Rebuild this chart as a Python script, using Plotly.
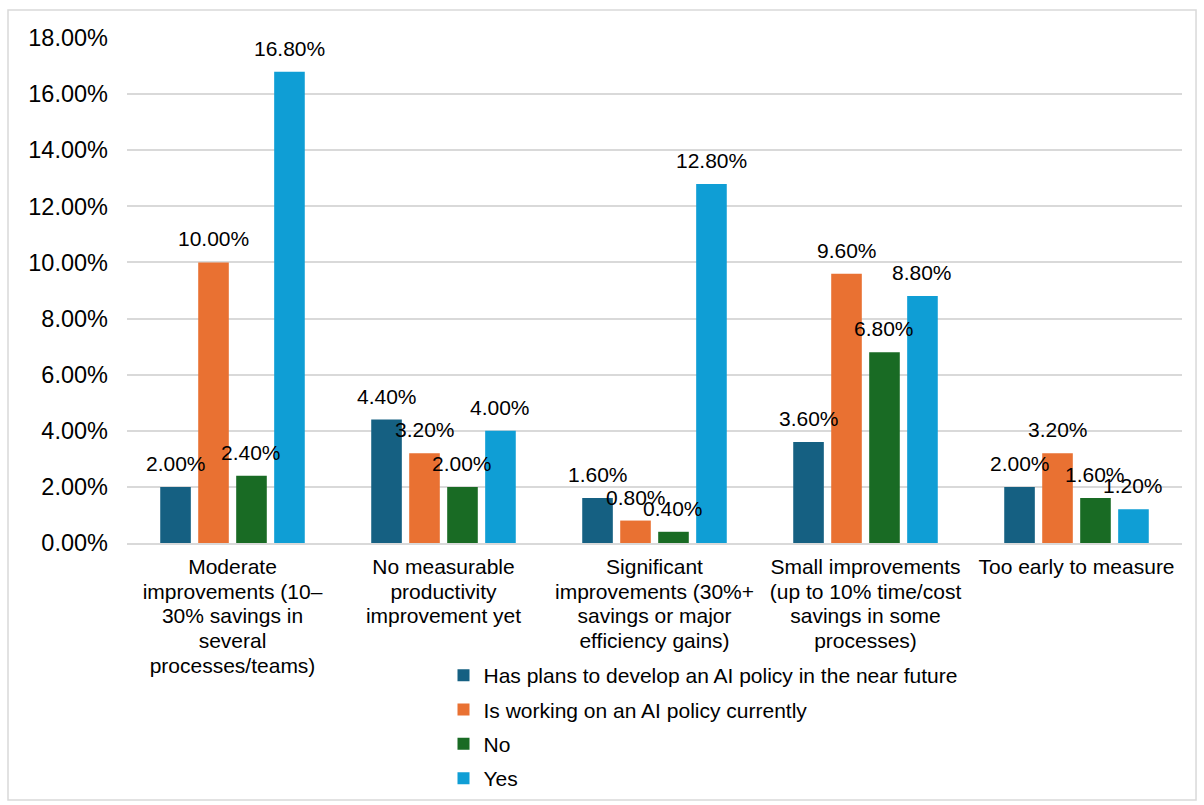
import plotly.graph_objects as go

categories = [
    "Moderate<br>improvements (10–<br>30% savings in<br>several<br>processes/teams)",
    "No measurable<br>productivity<br>improvement yet",
    "Significant<br>improvements (30%+<br>savings or major<br>efficiency gains)",
    "Small improvements<br>(up to 10% time/cost<br>savings in some<br>processes)",
    "Too early to measure",
]

series_names = [
    "Has plans to develop an AI policy in the near future",
    "Is working on an AI policy currently",
    "No",
    "Yes",
]

has_plans = [2.00, 4.40, 1.60, 3.60, 2.00]
working_on = [10.00, 3.20, 0.80, 9.60, 3.20]
no_policy = [2.40, 2.00, 0.40, 6.80, 1.60]
yes_policy = [16.80, 4.00, 12.80, 8.80, 1.20]

series_values = [has_plans, working_on, no_policy, yes_policy]
colors = ["#156082", "#E97132", "#196B24", "#0F9ED5"]

y_ticks = [0, 2, 4, 6, 8, 10, 12, 14, 16, 18]

font_family = "Liberation Sans, Arial, sans-serif"

# grouped bar geometry, in category units
bar_width = 0.145
bar_step = 0.18
n_series = len(series_names)
positions = list(range(len(categories)))


def tight_label(label, px=21):
    # larger glyphs on a tighter line pitch than the axis font gives
    return "<br>".join(
        f"<span style='font-size:{px}px'>{line}</span>" for line in label.split("<br>")
    )


fig = go.Figure()
annotations = []
for k, (name, vals, col) in enumerate(zip(series_names, series_values, colors)):
    center_off = (k - (n_series - 1) / 2) * bar_step
    fig.add_trace(go.Bar(
        name=name,
        legendgroup=name,
        x=positions,
        y=vals,
        width=bar_width,
        offset=center_off - bar_width / 2,
        marker=dict(color=col, line=dict(width=0)),
        hovertemplate="%{y:.2f}%<extra>" + name + "</extra>",
    ))
    for p, v in zip(positions, vals):
        annotations.append(dict(
            x=p + center_off, y=v, xref="x", yref="y",
            text=f"{v:.2f}%",
            showarrow=False,
            xanchor="center", yanchor="bottom",
            yshift=10,
            font=dict(size=21, color="#000000", family=font_family),
        ))

fig.update_layout(
    width=1204,
    height=805,
    barmode="overlay",
    plot_bgcolor="white",
    paper_bgcolor="white",
    margin=dict(l=127, r=22, t=38, b=262, autoexpand=False),
    font=dict(family=font_family, size=21, color="#000000"),
    showlegend=True,
    legend=dict(
        orientation="v",
        x=0.300,
        y=-0.222,
        xanchor="left",
        yanchor="top",
        font=dict(size=21, color="#000000"),
        itemwidth=30,
        tracegroupgap=4,
        bgcolor="rgba(0,0,0,0)",
    ),
    xaxis=dict(
        range=[-0.5, len(categories) - 0.5],
        tickvals=positions,
        ticktext=[tight_label(c) for c in categories],
        showgrid=False,
        zeroline=False,
        showline=True,
        linecolor="#D9D9D9",
        linewidth=2,
        ticks="",
        tickfont=dict(size=19),
        tickangle=0,
        ticklabelstandoff=6,
    ),
    yaxis=dict(
        range=[0, 18],
        tickvals=y_ticks,
        ticktext=[f"{t:.2f}%" for t in y_ticks],
        showgrid=True,
        gridcolor="#D9D9D9",
        gridwidth=2,
        zeroline=False,
        showline=False,
        ticks="",
        tickfont=dict(size=23.5),
        ticklabelstandoff=18,
    ),
    annotations=annotations,
    shapes=[dict(
        type="rect",
        xref="paper", yref="paper",
        x0=-0.1128, x1=1.0133, y0=-0.509, y1=1.0554,
        line=dict(color="#D9D9D9", width=1.5),
        fillcolor="rgba(0,0,0,0)",
        layer="below",
    )],
)

fig.write_html("out.html")
